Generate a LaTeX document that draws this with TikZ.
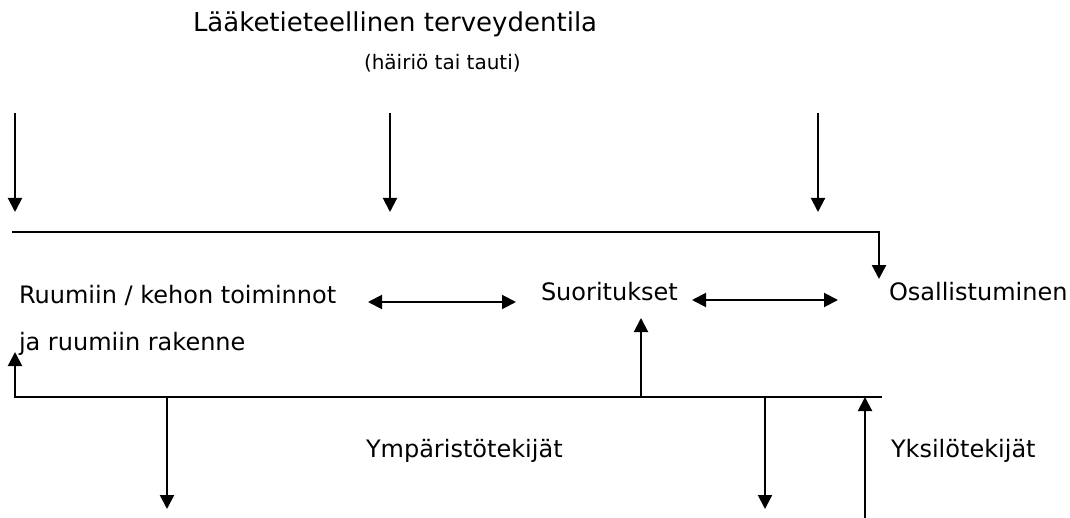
\documentclass[tikz,border=0pt]{standalone}
\usepackage{fontspec}
\setmainfont{DejaVu Sans}
\usetikzlibrary{arrows.meta}

\begin{document}
\begin{tikzpicture}[x=0.5pt,y=-0.5pt,line width=1pt,
    arr/.style={-{Triangle[length=7pt,width=7pt]}},
    darr/.style={{Triangle[length=7pt,width=7pt]}-{Triangle[length=7pt,width=7pt]}},
    lbl/.style={anchor=base west,inner sep=0pt,font=\fontsize{12}{14}\selectfont}]
    \useasboundingbox (0,0) rectangle (1070,518);
    % texts
    \node[lbl,font=\fontsize{13}{15}\selectfont] (title) at (192,32) {Lääketieteellinen terveydentila};
    \node[lbl,font=\fontsize{10}{12}\selectfont] (sub) at (363,70) {(häiriö tai tauti)};
    \node[lbl] (body) at (18,303) {Ruumiin / kehon toiminnot};
    \node[lbl] (body2) at (18,350) {ja ruumiin rakenne};
    \node[lbl] (act) at (540,300) {Suoritukset};
    \node[lbl] (part) at (888,300) {Osallistuminen};
    \node[lbl] (env) at (365,457) {Ympäristötekijät};
    \node[lbl] (pers) at (890,457) {Yksilötekijät};
    % health condition arrows
    \foreach \x [count=\i] in {15,390,818} {
        \coordinate (hs\i) at (\x,113);
        \coordinate (he\i) at (\x,212);
        \draw[arr] (hs\i) -- (he\i);
    }
    \coordinate (tl) at (12,232);
    \coordinate (tr) at (879,232);
    \coordinate (tp) at (879,279);
    \draw[arr,line width=1.3pt] (tl) -- (tr) -- (tp);
    % interactions
    \coordinate (d1a) at (368,302);
    \coordinate (d1b) at (516,302);
    \coordinate (d2a) at (692,300);
    \coordinate (d2b) at (838,300);
    \draw[darr] (d1a) -- (d1b);
    \draw[darr] (d2a) -- (d2b);
    % contextual factors
    \coordinate (bl) at (15,397);
    \coordinate (br) at (882,397);
    \coordinate (bt) at (15,352);
    \draw[arr] (br) -- (bl) -- (bt);
    \coordinate (as) at (641,397);
    \coordinate (ae) at (641,318);
    \draw[arr] (as) -- (ae);
    \foreach \x [count=\i] in {167,765} {
        \coordinate (es\i) at (\x,397);
        \coordinate (ee\i) at (\x,509);
        \draw[arr] (es\i) -- (ee\i);
    }
    \coordinate (ps) at (865,518);
    \coordinate (pe) at (865,397);
    \draw[arr] (ps) -- (pe);
\end{tikzpicture}
\end{document}
